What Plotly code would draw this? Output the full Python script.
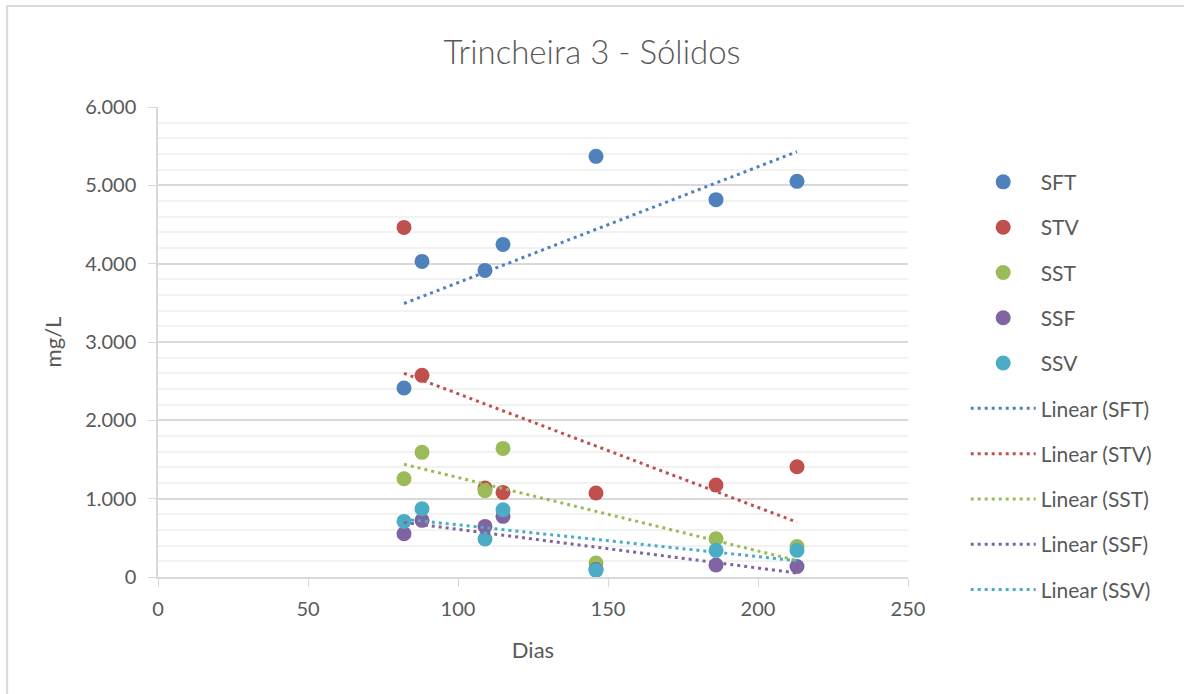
import numpy as np
import plotly.graph_objects as go

# Data
dias = [82, 88, 109, 115, 146, 186, 213]
SFT = [2413, 4029, 3914, 4246, 5370, 4817, 5051]
STV = [4463, 2574, 1136, 1080, 1072, 1174, 1408]
SST = [1255, 1591, 1102, 1642, 179, 489, 390]
SSF = [553, 723, 646, 774, 95, 153, 135]
SSV = [710, 872, 485, 859, 84, 340, 340]

series_names = ["SFT", "STV", "SST", "SSF", "SSV"]
series_values = [SFT, STV, SST, SSF, SSV]
colors = ["#4F81BD", "#C0504D", "#9BBB59", "#8064A2", "#4BACC6"]

FONT = "Lato, 'Open Sans', sans-serif"
TXT = "#595959"

# plot area in pixels
W, H = 1184, 694
L, R, T, B = 158.3, 908.3, 107.3, 577.3

fig = go.Figure()

for i, (name, vals) in enumerate(zip(series_names, series_values)):
    fig.add_trace(go.Scatter(
        x=dias, y=vals, mode="markers", name=name,
        marker=dict(size=15, color=colors[i]),
        legendgroup=f"m{i}", cliponaxis=False,
    ))

for i, (name, vals) in enumerate(zip(series_names, series_values)):
    slope, intercept = np.polyfit(dias, vals, 1)
    xs = [min(dias), max(dias)]
    ys = [slope * xv + intercept for xv in xs]
    fig.add_trace(go.Scatter(
        x=xs, y=ys, mode="lines", name=f"Linear ({name})",
        line=dict(color=colors[i], width=3, dash="3px,4px"),
        legendgroup=f"l{i}", cliponaxis=False,
    ))

fig.update_layout(
    width=W, height=H,
    margin=dict(l=L, r=W - R, t=T, b=H - B, pad=0),
    paper_bgcolor="white", plot_bgcolor="white",
    separators=",.",
    font=dict(family=FONT, color=TXT, size=20),
    title=dict(text="Trincheira 3 - Sólidos", x=0.5, xanchor="center",
               y=1 - 52 / H, yanchor="middle",
               font=dict(family=FONT, size=33, color=TXT, weight=300)),
    showlegend=True,
    legend=dict(
        x=(966 - L) / (R - L), xanchor="left",
        y=1 - (162 - T) / (B - T), yanchor="top",
        font=dict(family=FONT, size=21, color=TXT),
        itemwidth=65, tracegroupgap=15, traceorder="grouped",
        bgcolor="rgba(0,0,0,0)", maxheight=650,
    ),
    xaxis=dict(
        range=[0, 250], dtick=50, tick0=0,
        showgrid=False, zeroline=False,
        showline=True, linecolor="#D9D9D9", linewidth=1.5,
        ticks="outside", ticklen=8, tickcolor="#D9D9D9",
        ticklabelstandoff=5,
        tickfont=dict(family=FONT, size=20, color=TXT),
        title=dict(text="Dias", font=dict(family=FONT, size=22, color=TXT), standoff=24),
    ),
    yaxis=dict(
        range=[0, 6000], dtick=1000, tick0=0, tickformat=",d",
        showgrid=True, gridcolor="#D9D9D9", gridwidth=1.5,
        zeroline=False,
        showline=True, linecolor="#D9D9D9", linewidth=1.5,
        ticks="outside", ticklen=8, tickcolor="#D9D9D9",
        ticklabelstandoff=8,
        tickfont=dict(family=FONT, size=20, color=TXT),
        minor=dict(dtick=200, showgrid=True, gridcolor="#F2F2F2", gridwidth=1.5),
        title=dict(text="mg/L", font=dict(family=FONT, size=22, color=TXT), standoff=17),
    ),
    shapes=[dict(
        type="rect", xref="paper", yref="paper",
        x0=(7.5 - L) / (R - L), x1=1.6,
        y0=-0.6, y1=1 + (T - 6.3) / (B - T),
        line=dict(color="#D9D9D9", width=2), fillcolor="rgba(0,0,0,0)",
        layer="below",
    )],
)

fig.write_html(
    "out.html",
    config={"displayModeBar": False},
    post_script="document.body.style.margin='0';document.body.style.overflow='hidden';",
)
